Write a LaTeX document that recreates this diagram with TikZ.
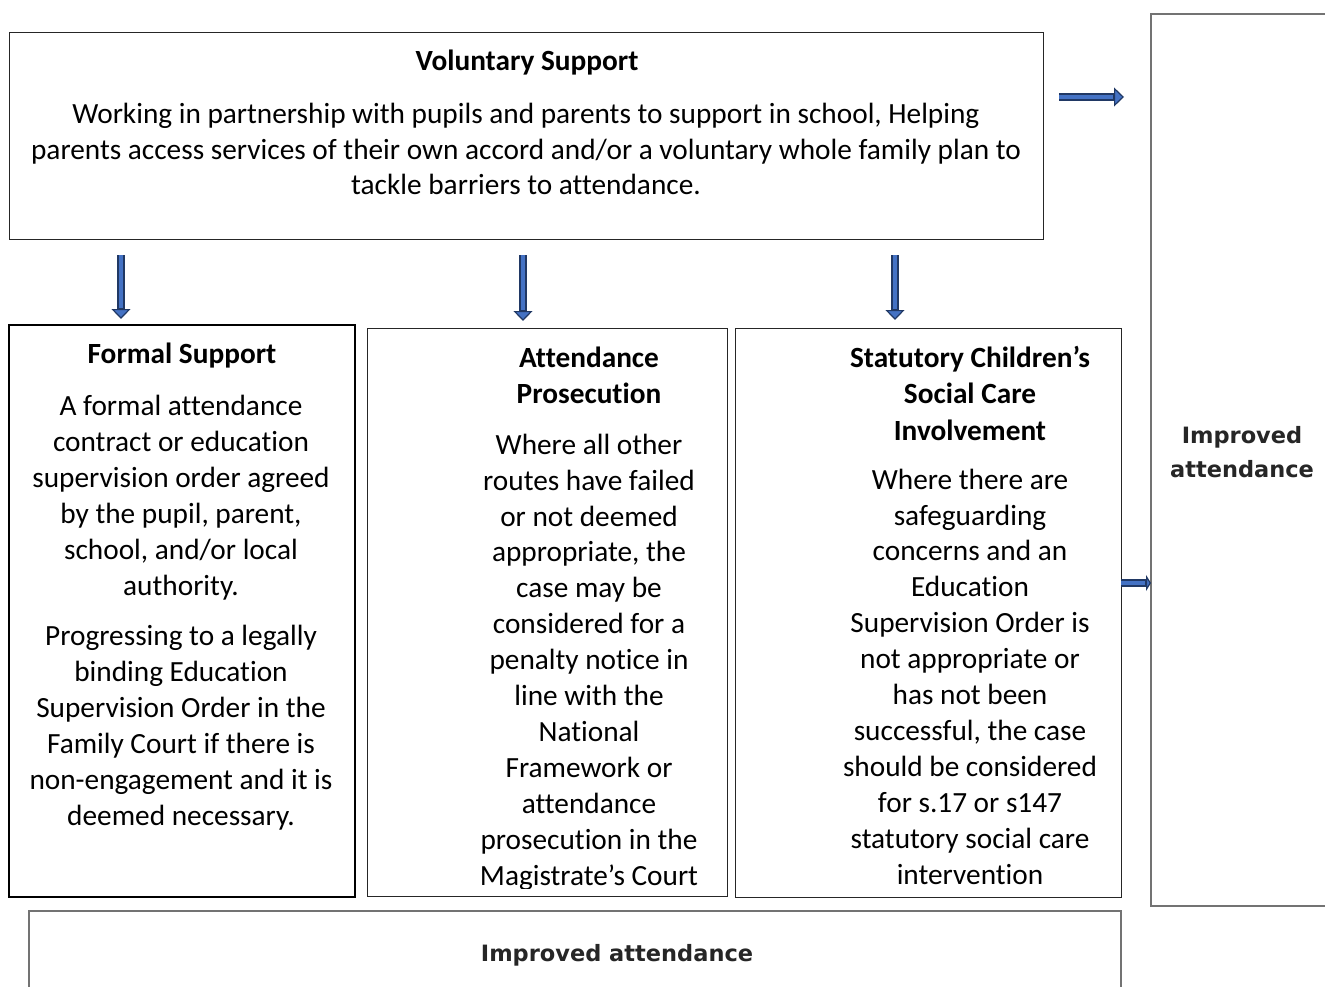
\documentclass[tikz,border=0pt]{standalone}
\usepackage{fontspec}
\setmainfont[Ligatures=NoCommon]{Carlito}
\newfontfamily\djv{DejaVu Sans}
\usetikzlibrary{arrows.meta}
\definecolor{arrblue}{RGB}{68,114,196}
\definecolor{arrnavy}{RGB}{32,56,100}
\tikzset{
  box/.style={draw=black!85, line width=1pt, inner sep=0pt, outer sep=0pt},
  graybox/.style={draw=black!55, line width=2.6pt, inner sep=0pt, outer sep=0pt},
  txt/.style={align=center, anchor=base, inner sep=0pt, font=\fontsize{29.3}{35.9}\selectfont},
  ttl/.style={align=center, anchor=base, inner sep=0pt, font=\bfseries\fontsize{29.3}{36.5}\selectfont},
  imp/.style={align=center, anchor=base, inner sep=0pt, font=\djv\bfseries\fontsize{22.5}{34}\selectfont, text=black!85},
  bigarrow/.style={line width=7.5pt, draw=arrnavy,
    -{Triangle[length=10pt,width=19pt,fill=arrblue,line width=1.2pt]},
    postaction={draw=arrblue, line width=3.2pt, shorten >=11pt, -}},
}
\begin{document}
\begin{tikzpicture}[x=1pt,y=-1pt]
\useasboundingbox (0,0) rectangle (1325,987);

% boxes
\node[box, minimum width=1034pt, minimum height=206pt] (vol) at (526,136) {};
\node[box, line width=2pt, draw=black, minimum width=346pt, minimum height=572pt] (formal) at (182,611) {};
\node[box, minimum width=360pt, minimum height=568pt] (pros) at (547,612) {};
\node[box, minimum width=386pt, minimum height=569pt] (stat) at (928,612.5) {};
\node[graybox, minimum width=194pt, minimum height=892pt] (impR) at (1248,460) {};
\node[graybox, minimum width=1092pt, minimum height=99pt] (impB) at (575,960.5) {};

% texts (anchor base = baseline of the last line)
\node[ttl] (volT) at (527,71) {Voluntary Support};
\node[txt] (volB) at (526,195) {Working in partnership with pupils and parents to support in school, Helping\\
parents access services of their own accord and/or a voluntary whole family plan to\\
tackle barriers to attendance.};

\node[ttl] (forT) at (182,363) {Formal Support};
\node[txt] (forB1) at (181,595) {A formal attendance\\contract or education\\supervision order agreed\\by the pupil, parent,\\school, and/or local\\authority.};
\node[txt] (forB2) at (181,825) {Progressing to a legally\\binding Education\\Supervision Order in the\\Family Court if there is\\non-engagement and it is\\deemed necessary.};

\node[ttl] (proT) at (589,403.5) {Attendance\\Prosecution};
\begin{scope}
\clip (367,328) rectangle (727,888);
\node[txt] (proB) at (589,885) {Where all other\\routes have failed\\or not deemed\\appropriate, the\\case may be\\considered for a\\penalty notice in\\line with the\\National\\Framework or\\attendance\\prosecution in the\\Magistrate’s Court};
\end{scope}

\node[ttl] (staT) at (970,440) {Statutory Children’s\\Social Care\\Involvement};
\node[txt] (staB) at (970,884) {Where there are\\safeguarding\\concerns and an\\Education\\Supervision Order is\\not appropriate or\\has not been\\successful, the case\\should be considered\\for s.17 or s147\\statutory social care\\intervention};

\node[imp] (impRT) at (1242,477) {Improved\\attendance};
\node[imp] (impBT) at (617,961) {Improved attendance};

% arrows
\coordinate (a1s) at (121,255); \coordinate (a1e) at (121,319);
\coordinate (a2s) at (523,255); \coordinate (a2e) at (523,321);
\coordinate (a3s) at (895,255); \coordinate (a3e) at (895,320);
\coordinate (a4s) at (1059,97); \coordinate (a4e) at (1124,97);
\coordinate (a5s) at (stat.east |- 0,583); \coordinate (a5e) at (impR.west |- 0,583);
\draw[bigarrow] (a1s) -- (a1e);
\draw[bigarrow] (a2s) -- (a2e);
\draw[bigarrow] (a3s) -- (a3e);
\draw[bigarrow] (a4s) -- (a4e);
\draw[bigarrow, -{Triangle[length=5pt,width=16pt,fill=arrblue,line width=1.2pt]}, postaction={draw=arrblue, line width=3.2pt, shorten >=6pt, -}] (a5s) -- (a5e);
\end{tikzpicture}
\end{document}
